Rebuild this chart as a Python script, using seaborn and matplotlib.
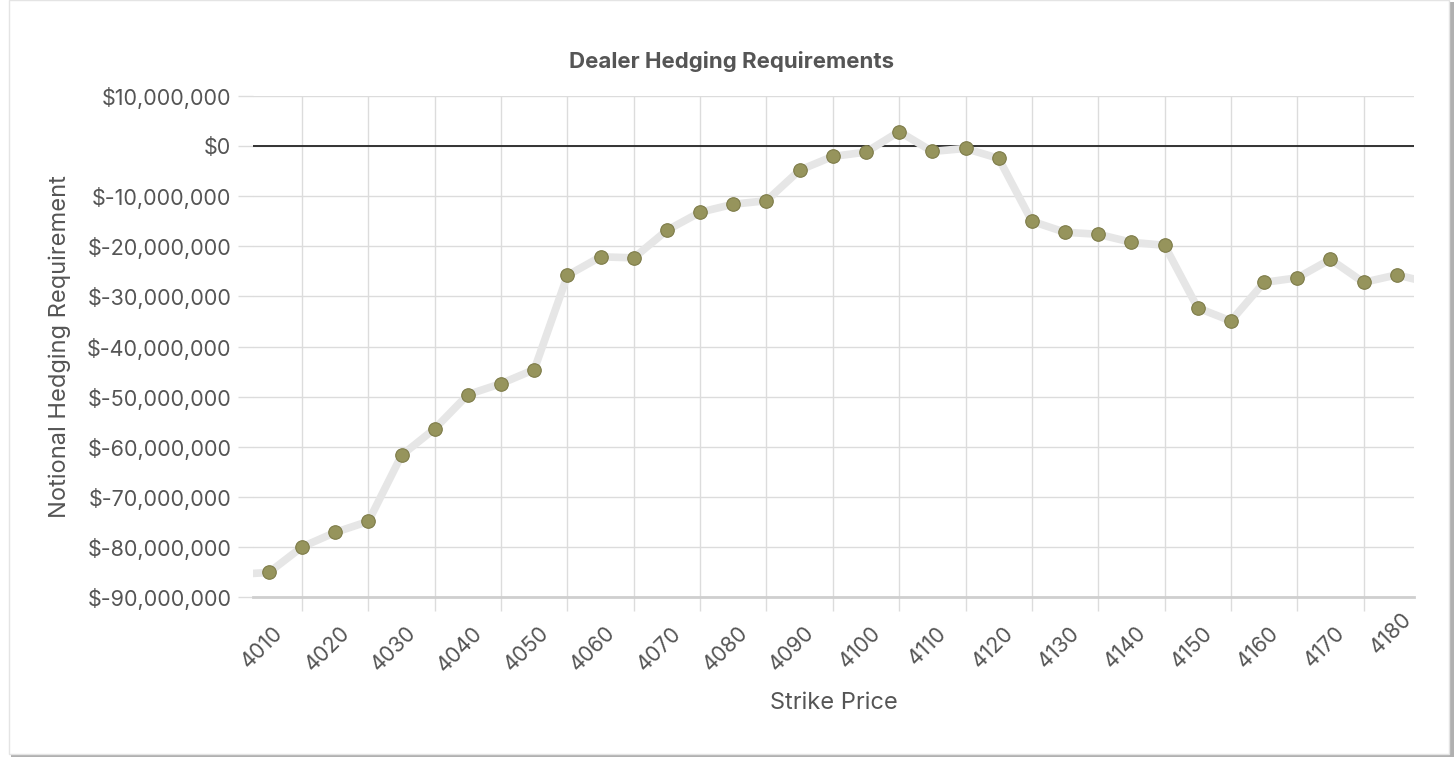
import numpy as np
import pandas as pd
import seaborn as sns
import matplotlib
matplotlib.use("Agg")
import matplotlib.pyplot as plt
import matplotlib.transforms as mtransforms
from matplotlib.patches import Rectangle
from matplotlib.ticker import FuncFormatter

# ---- data ----
strikes = [4000, 4005, 4010, 4015, 4020, 4025, 4030, 4035, 4040, 4045,
           4050, 4055, 4060, 4065, 4070, 4075, 4080, 4085, 4090, 4095,
           4100, 4105, 4110, 4115, 4120, 4125, 4130, 4135, 4140, 4145,
           4150, 4155, 4160, 4165, 4170, 4175, 4180]
hedging = [-85.5, -85.1, -80.0, -77.1, -74.9, -61.7, -56.4, -49.6, -47.4, -44.6,
           -25.8, -22.1, -22.3, -16.8, -13.2, -11.6, -10.9, -4.8, -2.06, -1.2,
           2.9, -1.07, -0.47, -2.46, -15.0, -17.2, -17.6, -19.2, -19.8, -32.3,
           -34.9, -27.2, -26.3, -22.6, -27.2, -25.7, -27.3]
hedging = [v * 1e6 for v in hedging]
x_tick_labels = [4010, 4020, 4030, 4040, 4050, 4060, 4070, 4080, 4090, 4100,
                 4110, 4120, 4130, 4140, 4150, 4160, 4170, 4180]
y_ticks = [10e6, 0, -10e6, -20e6, -30e6, -40e6, -50e6, -60e6, -70e6, -80e6, -90e6]

df = pd.DataFrame({"Strike Price": strikes, "Hedging": hedging})

sns.set_theme(style="white")
FONT = ["Inter", "DejaVu Sans"]
plt.rcParams["font.family"] = FONT
TXT = "#555555"
GRID = "#dcdcdc"
TICK_FS = 15.5
LABEL_FS = 17

W, H = 1456, 762
fig = plt.figure(figsize=(W / 100, H / 100), dpi=100)
fig.patch.set_facecolor("white")

# card frame with shadow
fig.patches.append(Rectangle((11 / W, 1 - 757 / H), 1443 / W, 755 / H,
                             transform=fig.transFigure, facecolor="#b0b0b0",
                             edgecolor="none", zorder=-3))
fig.patches.append(Rectangle((9 / W, 1 - 754 / H), 1440 / W, 754 / H,
                             transform=fig.transFigure, facecolor="white",
                             edgecolor="#e4e4e4", linewidth=1, zorder=-2))

ax = fig.add_axes([253 / W, 1 - 597 / H, (1414 - 253) / W, (597 - 96) / H])
ax.set_facecolor("none")

sns.lineplot(data=df, x="Strike Price", y="Hedging", ax=ax, color="#e6e6e6",
             linewidth=5.5, zorder=3, clip_on=True)
sns.scatterplot(data=df, x="Strike Price", y="Hedging", ax=ax, color="#96945c",
                edgecolor="#7d7b48", linewidth=0.8, s=95, zorder=4, clip_on=True)

ax.axhline(0, color="#333333", linewidth=1.4, zorder=2.5)

ax.set_xlim(4002.6, 4177.6)
ax.set_ylim(-90e6, 10e6)

ax.set_yticks(y_ticks)
ax.yaxis.set_major_formatter(FuncFormatter(lambda v, p: f"${v:,.0f}"))
vis_ticks = [t for t in x_tick_labels if 4002.6 <= t <= 4177.6]
ax.set_xticks(vis_ticks)
ax.set_xticklabels([str(t) for t in vis_ticks])

ax.grid(True, color=GRID, linewidth=1)
ax.set_axisbelow(True)
for s in ["top", "right", "left"]:
    ax.spines[s].set_visible(False)
ax.spines["bottom"].set_color("#cfcfcf")
ax.spines["bottom"].set_linewidth(2)

ax.tick_params(axis="y", length=11, width=1, color=GRID, pad=4.5,
               labelsize=TICK_FS, labelcolor=TXT, left=True)
ax.tick_params(axis="x", length=10, width=1, color=GRID, pad=0,
               labelsize=TICK_FS, labelcolor=TXT, bottom=True)

offset = mtransforms.ScaledTranslation(-0.22, -0.19, fig.dpi_scale_trans)
for lab in ax.get_xticklabels():
    lab.set_rotation(45)
    lab.set_ha("right")
    lab.set_va("center")
    lab.set_rotation_mode("anchor")
    lab.set_transform(lab.get_transform() + offset)

# last label sits beyond the drawing area
extra = [t for t in x_tick_labels if t not in vis_ticks]
trans = mtransforms.blended_transform_factory(ax.transData, ax.transAxes) + offset
for t in extra:
    ax.text(t, 0, str(t), transform=trans, rotation=45, ha="right", va="center",
            rotation_mode="anchor", fontsize=TICK_FS, color=TXT, clip_on=False)

ax.set_xlabel("Strike Price", fontsize=LABEL_FS, color=TXT, labelpad=0)
ax.xaxis.label.set_va("center")
ax.xaxis.set_label_coords(0.5, -(703 - 597) / (597 - 96))
ax.set_ylabel("Notional Hedging Requirement", fontsize=LABEL_FS, color=TXT)
ax.yaxis.label.set_va("center")
ax.yaxis.set_label_coords(-(253 - 60) / (1414 - 253), 0.5)

fig.text(732 / W, 1 - 62 / H, "Dealer Hedging Requirements", ha="center",
         va="center", fontsize=16, fontweight="bold", color=TXT)

fig.savefig("out.png", dpi=100)
